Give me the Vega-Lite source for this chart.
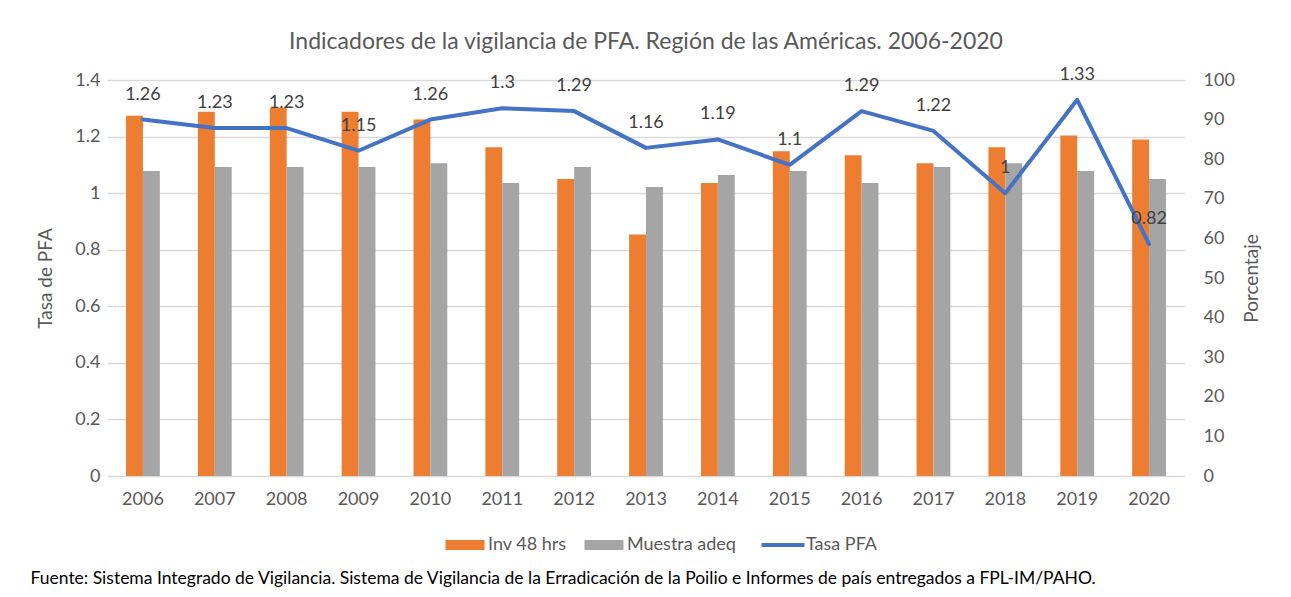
{
  "$schema": "https://vega.github.io/schema/vega-lite/v6.json",
  "width": 1078,
  "height": 396,
  "autosize": {"type": "none"},
  "padding": {"left": 107, "top": 80, "right": 106, "bottom": 121},
  "background": "white",
  "config": {
    "font": "Lato",
    "view": {"stroke": null},
    "axis": {"labelFont": "Lato", "titleFont": "Lato", "labelColor": "#595959", "titleColor": "#595959", "titleFontWeight": "normal", "domain": false, "ticks": false, "tickSize": 0}
  },
  "title": {
    "text": "Indicadores de la vigilancia de PFA. Región de las Américas. 2006-2020",
    "font": "Lato", "fontSize": 23, "fontWeight": "normal", "color": "#595959",
    "anchor": "middle", "frame": "group", "baseline": "alphabetic", "offset": -6
  },
  "datasets": {
    "bars": [
      {"year": "2006", "serie": "Inv 48 hrs", "pct": 91}, {"year": "2006", "serie": "Muestra adeq", "pct": 77},
      {"year": "2007", "serie": "Inv 48 hrs", "pct": 92}, {"year": "2007", "serie": "Muestra adeq", "pct": 78},
      {"year": "2008", "serie": "Inv 48 hrs", "pct": 93}, {"year": "2008", "serie": "Muestra adeq", "pct": 78},
      {"year": "2009", "serie": "Inv 48 hrs", "pct": 92}, {"year": "2009", "serie": "Muestra adeq", "pct": 78},
      {"year": "2010", "serie": "Inv 48 hrs", "pct": 90}, {"year": "2010", "serie": "Muestra adeq", "pct": 79},
      {"year": "2011", "serie": "Inv 48 hrs", "pct": 83}, {"year": "2011", "serie": "Muestra adeq", "pct": 74},
      {"year": "2012", "serie": "Inv 48 hrs", "pct": 75}, {"year": "2012", "serie": "Muestra adeq", "pct": 78},
      {"year": "2013", "serie": "Inv 48 hrs", "pct": 61}, {"year": "2013", "serie": "Muestra adeq", "pct": 73},
      {"year": "2014", "serie": "Inv 48 hrs", "pct": 74}, {"year": "2014", "serie": "Muestra adeq", "pct": 76},
      {"year": "2015", "serie": "Inv 48 hrs", "pct": 82}, {"year": "2015", "serie": "Muestra adeq", "pct": 77},
      {"year": "2016", "serie": "Inv 48 hrs", "pct": 81}, {"year": "2016", "serie": "Muestra adeq", "pct": 74},
      {"year": "2017", "serie": "Inv 48 hrs", "pct": 79}, {"year": "2017", "serie": "Muestra adeq", "pct": 78},
      {"year": "2018", "serie": "Inv 48 hrs", "pct": 83}, {"year": "2018", "serie": "Muestra adeq", "pct": 79},
      {"year": "2019", "serie": "Inv 48 hrs", "pct": 86}, {"year": "2019", "serie": "Muestra adeq", "pct": 77},
      {"year": "2020", "serie": "Inv 48 hrs", "pct": 85}, {"year": "2020", "serie": "Muestra adeq", "pct": 75}
    ],
    "tasa": [
      {"year": "2006", "serie": "Tasa PFA", "tasa": 1.26},
      {"year": "2007", "serie": "Tasa PFA", "tasa": 1.23},
      {"year": "2008", "serie": "Tasa PFA", "tasa": 1.23},
      {"year": "2009", "serie": "Tasa PFA", "tasa": 1.15},
      {"year": "2010", "serie": "Tasa PFA", "tasa": 1.26},
      {"year": "2011", "serie": "Tasa PFA", "tasa": 1.3},
      {"year": "2012", "serie": "Tasa PFA", "tasa": 1.29},
      {"year": "2013", "serie": "Tasa PFA", "tasa": 1.16},
      {"year": "2014", "serie": "Tasa PFA", "tasa": 1.19},
      {"year": "2015", "serie": "Tasa PFA", "tasa": 1.1},
      {"year": "2016", "serie": "Tasa PFA", "tasa": 1.29},
      {"year": "2017", "serie": "Tasa PFA", "tasa": 1.22},
      {"year": "2018", "serie": "Tasa PFA", "tasa": 1.0},
      {"year": "2019", "serie": "Tasa PFA", "tasa": 1.33},
      {"year": "2020", "serie": "Tasa PFA", "tasa": 0.82}
    ]
  },
  "layer": [
    {
      "data": {"name": "bars"},
      "mark": {"type": "bar"},
      "encoding": {
        "x": {
          "field": "year", "type": "ordinal",
          "scale": {"paddingInner": 0.53, "paddingOuter": 0.265},
          "axis": {
            "labelAngle": 0, "labelFontSize": 18, "labelPadding": 14,
            "title": "Fuente: Sistema Integrado de Vigilancia. Sistema de Vigilancia de la Erradicación de la Poilio e Informes de país entregados a FPL-IM/PAHO.",
            "titleColor": "#000000", "titleFontSize": 17.5, "titleAnchor": "start", "titleAlign": "left",
            "titleX": -77, "titleY": 102, "titleBaseline": "middle"
          }
        },
        "xOffset": {"field": "serie", "type": "nominal", "scale": {"paddingInner": 0, "paddingOuter": 0}},
        "y": {
          "field": "pct", "type": "quantitative",
          "scale": {"domain": [0, 100], "nice": false},
          "axis": {
            "orient": "right", "title": "Porcentaje", "values": [0, 10, 20, 30, 40, 50, 60, 70, 80, 90, 100],
            "grid": false, "labelFontSize": 18, "labelPadding": 18,
            "titleFontSize": 19, "titleAngle": 270, "titleX": 76, "titleY": 198, "titleBaseline": "bottom", "titleAlign": "center"
          }
        },
        "color": {
          "field": "serie", "type": "nominal",
          "scale": {"domain": ["Inv 48 hrs", "Muestra adeq", "Tasa PFA"], "range": ["#ED7D31", "#A5A5A5", "#4472C4"]},
          "legend": {
            "orient": "none", "legendX": 349, "legendY": 456, "direction": "horizontal", "title": null,
            "symbolSize": 1521, "symbolType": "M-1,-0.26H1V0.26H-1Z",
            "labelFontSize": 18, "labelColor": "#595959", "labelFont": "Lato", "labelOffset": 14, "columnPadding": 17, "padding": 0,
            "encode": {
              "symbols": {
                "update": {
                  "shape": {"signal": "datum.value === 'Tasa PFA' ? 'M-1.1,0H1.1' : 'M-1,-0.26H1V0.26H-1Z'"},
                  "fill": {"signal": "datum.value === 'Inv 48 hrs' ? '#ED7D31' : datum.value === 'Muestra adeq' ? '#A5A5A5' : 'transparent'"},
                  "stroke": {"signal": "datum.value === 'Tasa PFA' ? '#4472C4' : 'transparent'"},
                  "strokeWidth": {"signal": "datum.value === 'Tasa PFA' ? 4 : 0"},
                  "opacity": {"value": 1}
                }
              }
            }
          }
        }
      }
    },
    {
      "data": {"name": "tasa"},
      "encoding": {
        "x": {"field": "year", "type": "ordinal"},
        "y": {
          "field": "tasa", "type": "quantitative",
          "scale": {"domain": [0, 1.4], "nice": false},
          "axis": {
            "orient": "left", "title": "Tasa de PFA", "values": [0, 0.2, 0.4, 0.6, 0.8, 1, 1.2, 1.4], "format": ".1~f",
            "grid": true, "gridColor": "#D9D9D9", "gridWidth": 1.5,
            "labelFontSize": 18, "labelPadding": 7,
            "titleFontSize": 19, "titleAngle": 270, "titleX": -52, "titleY": 198, "titleBaseline": "bottom", "titleAlign": "center"
          }
        }
      },
      "layer": [
        {
          "mark": {"type": "line", "strokeWidth": 4, "strokeJoin": "round", "strokeCap": "round"},
          "encoding": {"color": {"field": "serie", "type": "nominal"}}
        },
        {
          "mark": {"type": "text", "dy": -25, "baseline": "middle", "fontSize": 18, "color": "#404040", "font": "Lato"},
          "encoding": {"text": {"field": "tasa", "type": "quantitative", "format": ".2~f"}}
        }
      ]
    }
  ],
  "resolve": {"scale": {"y": "independent"}}
}
